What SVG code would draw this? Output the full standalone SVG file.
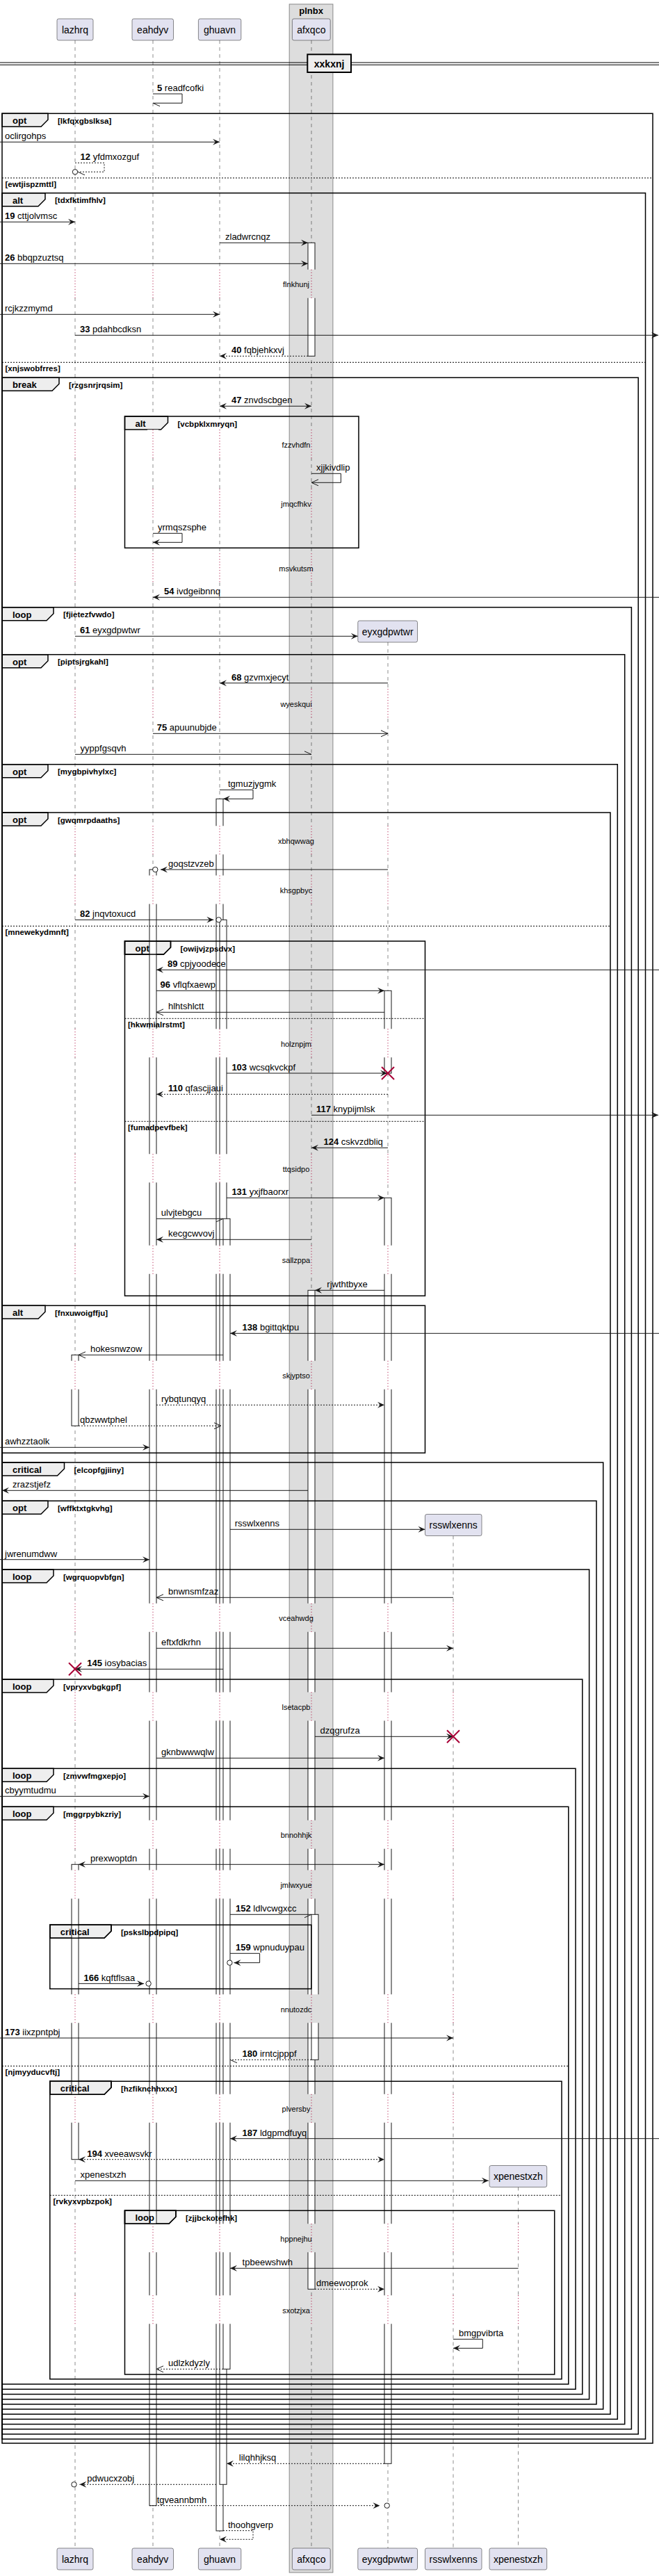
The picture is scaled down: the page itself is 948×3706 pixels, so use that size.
<svg xmlns="http://www.w3.org/2000/svg" width="948" height="3706" viewBox="0 0 948 3706">
<style>
text{font-family:"Liberation Sans",Arial,sans-serif;fill:#000}
.t{font-size:13px}
.b{font-weight:bold}
.g{font-size:11.5px;font-weight:bold}
.fl{font-size:13px;font-weight:bold}
.dt{font-size:11px;text-anchor:middle}
.pn{font-size:14px;text-anchor:middle}
.ll{stroke:#181818;stroke-width:.5;stroke-dasharray:5 5;fill:none}
.dl{stroke:#A80036;stroke-width:1;stroke-dasharray:1 3;fill:none}
.bar{fill:#fff;stroke:#181818;stroke-width:1}
.m{stroke:#181818;stroke-width:1;fill:none}
.d{stroke-dasharray:2 2}
.fr{fill:none;stroke:#000;stroke-width:1.5}
.tab{fill:#EEEEEE;stroke:#000;stroke-width:1.5}
.tabo{fill:none;stroke:#000;stroke-width:1.5}
.sep{stroke:#000;stroke-width:1;stroke-dasharray:2 2}
.pb{fill:#E2E2F0;stroke:#181818;stroke-width:.5}
.x{stroke:#A80036;stroke-width:2}
.c{fill:#fff;stroke:#181818;stroke-width:1}
</style>
<defs>
<marker id="f" markerUnits="userSpaceOnUse" markerWidth="12" markerHeight="10" refX="10" refY="4.5" orient="auto-start-reverse" overflow="visible"><path d="M0,0L10,4.5L0,9L4,4.5Z" fill="#181818"/></marker>
<marker id="o" markerUnits="userSpaceOnUse" markerWidth="12" markerHeight="10" refX="10" refY="4.5" orient="auto" overflow="visible"><path d="M0,0L10,4.5L0,9" fill="none" stroke="#181818" stroke-width="1"/></marker>
<marker id="hu" markerUnits="userSpaceOnUse" markerWidth="12" markerHeight="10" refX="10" refY="4.5" orient="auto" overflow="visible"><path d="M0,0L10,4.5" fill="none" stroke="#181818" stroke-width="1"/></marker>
<marker id="hl" markerUnits="userSpaceOnUse" markerWidth="12" markerHeight="10" refX="10" refY="4.5" orient="auto" overflow="visible"><path d="M0,9L10,4.5" fill="none" stroke="#181818" stroke-width="1"/></marker>
<path id="wa" d="M0 387.8h1v41h-1zM0 618.2h1v41h-1zM0 703.2h1v41h-1zM0 796.2h1v41h-1z"/>
<path id="wb" d="M0 991.2h1v41h-1zM0 1188.2h1v41h-1zM0 1259.5h1v41h-1zM0 1480.2h1v41h-1zM0 1660.2h1v41h-1zM0 1791.8h1v41h-1zM0 1957.8h1v41h-1z"/>
<path id="wc" d="M0 2306.8h1v41h-1zM0 2434.5h1v41h-1zM0 2618.8h1v41h-1zM0 2690.5h1v41h-1zM0 2869.2h1v41h-1zM0 3012.8h1v41h-1z"/>
<path id="wd" d="M0 3199.2h1v41h-1zM0 3302.2h1v41h-1z"/>
<path id="da" d="M0 387.8v41M0 618.2v41M0 703.2v41M0 796.2v41"/>
<path id="db" d="M0 991.2v41M0 1188.2v41M0 1259.5v41M0 1480.2v41M0 1660.2v41M0 1791.8v41M0 1957.8v41"/>
<path id="dc" d="M0 2306.8v41M0 2434.5v41M0 2618.8v41M0 2690.5v41M0 2869.2v41M0 3012.8v41"/>
<path id="dd" d="M0 3199.2v41M0 3302.2v41"/>
</defs>
<rect width="948" height="3706" fill="#fff"/>

<g id="box-plnbx">
<rect x="416.2" y="6" width="62.7" height="3695" fill="#DDDDDD" stroke="#888" stroke-width="1"/>
<text class="fl" x="447.6" y="19.5" text-anchor="middle">plnbx</text>
</g>

<g id="lifelines">
<path class="ll" d="M108 58V3666M220 58V3666M316 58V3666M448 58V3666M558 924V3666M652 2209.5V3666M745.5 3146.5V3666"/>
</g>

<g id="frame-tabs">
<polygon class="tab" points="3,163.3 69,163.3 69,172.3 59,182.3 3,182.3"/>
<polygon class="tab" points="3,277.7 65,277.7 65,286.7 55,296.7 3,296.7"/>
<polygon class="tab" points="3,543.3 85,543.3 85,552.3 75,562.3 3,562.3"/>
<polygon class="tab" points="179.5,599 241.5,599 241.5,608 231.5,618 179.5,618"/>
<polygon class="tab" points="3,873.7 77,873.7 77,882.7 67,892.7 3,892.7"/>
<polygon class="tab" points="3,941.7 69,941.7 69,950.7 59,960.7 3,960.7"/>
<polygon class="tab" points="3,1099.7 69,1099.7 69,1108.7 59,1118.7 3,1118.7"/>
<polygon class="tab" points="3,1169 69,1169 69,1178 59,1188 3,1188"/>
<polygon class="tab" points="179.5,1354 245.5,1354 245.5,1363 235.5,1373 179.5,1373"/>
<polygon class="tab" points="3,1878.3 65,1878.3 65,1887.3 55,1897.3 3,1897.3"/>
<polygon class="tab" points="3,2104 92.5,2104 92.5,2113 82.5,2123 3,2123"/>
<polygon class="tab" points="3,2159.3 69,2159.3 69,2168.3 59,2178.3 3,2178.3"/>
<polygon class="tab" points="3,2258 77,2258 77,2267 67,2277 3,2277"/>
<polygon class="tab" points="3,2416 77,2416 77,2425 67,2435 3,2435"/>
<polygon class="tab" points="3,2544.3 77,2544.3 77,2553.3 67,2563.3 3,2563.3"/>
<polygon class="tab" points="3,2599.3 77,2599.3 77,2608.3 67,2618.3 3,2618.3"/>
<polygon class="tab" points="71.8,2769.3 160,2769.3 160,2778.3 150,2788.3 71.8,2788.3"/>
<polygon class="tab" points="71.8,2994.3 160,2994.3 160,3003.3 150,3013.3 71.8,3013.3"/>
<polygon class="tab" points="179.5,3180.3 253,3180.3 253,3189.3 243,3199.3 179.5,3199.3"/>
</g>

<g id="activations">
<rect class="bar" x="443" y="349.3" width="10" height="163"/>
<rect class="bar" x="443" y="1856.3" width="10" height="1437"/>
<rect class="bar" x="448" y="2754.3" width="10" height="209"/>
<rect class="bar" x="311" y="1149.3" width="10" height="2491.7"/>
<rect class="bar" x="316" y="1323.3" width="10" height="2251"/>
<rect class="bar" x="321" y="1753.3" width="10" height="1655"/>
<rect class="bar" x="215" y="1251" width="10" height="2353.7"/>
<rect class="bar" x="553" y="1425.3" width="10" height="118.7"/>
<rect class="bar" x="553" y="1723.3" width="10" height="1821"/>
<rect class="bar" x="103" y="1949.3" width="10" height="102"/>
<rect class="bar" x="103" y="2682.3" width="10" height="424.4"/>
</g>

<g id="delays">
<use href="#wa" transform="translate(100 0) scale(16 1)" fill="#fff"/>
<use href="#wb" transform="translate(100 0) scale(16 1)" fill="#fff"/>
<use href="#wc" transform="translate(100 0) scale(16 1)" fill="#fff"/>
<use href="#wd" transform="translate(100 0) scale(16 1)" fill="#fff"/>
<use href="#wa" transform="translate(212 0) scale(16 1)" fill="#fff"/>
<use href="#wb" transform="translate(212 0) scale(16 1)" fill="#fff"/>
<use href="#wc" transform="translate(212 0) scale(16 1)" fill="#fff"/>
<use href="#wd" transform="translate(212 0) scale(16 1)" fill="#fff"/>
<use href="#wa" transform="translate(308 0) scale(26 1)" fill="#fff"/>
<use href="#wb" transform="translate(308 0) scale(26 1)" fill="#fff"/>
<use href="#wc" transform="translate(308 0) scale(26 1)" fill="#fff"/>
<use href="#wd" transform="translate(308 0) scale(26 1)" fill="#fff"/>
<use href="#wa" transform="translate(440 0) scale(21 1)" fill="#DDDDDD"/>
<use href="#wb" transform="translate(440 0) scale(21 1)" fill="#DDDDDD"/>
<use href="#wc" transform="translate(440 0) scale(21 1)" fill="#DDDDDD"/>
<use href="#wd" transform="translate(440 0) scale(21 1)" fill="#DDDDDD"/>
<use href="#wb" transform="translate(550 0) scale(16 1)" fill="#fff"/>
<use href="#wc" transform="translate(550 0) scale(16 1)" fill="#fff"/>
<use href="#wd" transform="translate(550 0) scale(16 1)" fill="#fff"/>
<use href="#wc" transform="translate(646 0) scale(12 1)" fill="#fff"/>
<use href="#wd" transform="translate(646 0) scale(12 1)" fill="#fff"/>
<use href="#wd" transform="translate(739.5 0) scale(12 1)" fill="#fff"/>
<use href="#da" class="dl" transform="translate(108 0)"/>
<use href="#db" class="dl" transform="translate(108 0)"/>
<use href="#dc" class="dl" transform="translate(108 0)"/>
<use href="#dd" class="dl" transform="translate(108 0)"/>
<use href="#da" class="dl" transform="translate(220 0)"/>
<use href="#db" class="dl" transform="translate(220 0)"/>
<use href="#dc" class="dl" transform="translate(220 0)"/>
<use href="#dd" class="dl" transform="translate(220 0)"/>
<use href="#da" class="dl" transform="translate(316 0)"/>
<use href="#db" class="dl" transform="translate(316 0)"/>
<use href="#dc" class="dl" transform="translate(316 0)"/>
<use href="#dd" class="dl" transform="translate(316 0)"/>
<use href="#da" class="dl" transform="translate(448 0)"/>
<use href="#db" class="dl" transform="translate(448 0)"/>
<use href="#dc" class="dl" transform="translate(448 0)"/>
<use href="#dd" class="dl" transform="translate(448 0)"/>
<use href="#db" class="dl" transform="translate(558 0)"/>
<use href="#dc" class="dl" transform="translate(558 0)"/>
<use href="#dd" class="dl" transform="translate(558 0)"/>
<use href="#dc" class="dl" transform="translate(652 0)"/>
<use href="#dd" class="dl" transform="translate(652 0)"/>
<use href="#dd" class="dl" transform="translate(745.5 0)"/>
<text class="dt" x="426" y="413.3">flnkhunj</text>
<text class="dt" x="426" y="643.7">fzzvhdfn</text>
<text class="dt" x="426" y="728.7">jmqcfhkv</text>
<text class="dt" x="426" y="821.7">msvkutsm</text>
<text class="dt" x="426" y="1016.7">wyeskqui</text>
<text class="dt" x="426" y="1213.7">xbhqwwag</text>
<text class="dt" x="426" y="1285">khsgpbyc</text>
<text class="dt" x="426" y="1505.7">holznpjm</text>
<text class="dt" x="426" y="1685.7">ttqsidpo</text>
<text class="dt" x="426" y="1817.3">sallzppa</text>
<text class="dt" x="426" y="1983.3">skjyptso</text>
<text class="dt" x="426" y="2332.3">vceahwdg</text>
<text class="dt" x="426" y="2460">lsetacpb</text>
<text class="dt" x="426" y="2644.3">bnnohhjk</text>
<text class="dt" x="426" y="2716">jmlwxyue</text>
<text class="dt" x="426" y="2894.7">nnutozdc</text>
<text class="dt" x="426" y="3038.3">plversby</text>
<text class="dt" x="426" y="3224.7">hppnejhu</text>
<text class="dt" x="426" y="3327.7">sxotzjxa</text>
</g>

<g id="frames">
<rect class="fr" x="3" y="163.3" width="936" height="3351.7"/>
<rect class="fr" x="3" y="277.7" width="925.5" height="3231.3"/>
<rect class="fr" x="3" y="543.3" width="915.2" height="2958.6"/>
<rect class="fr" x="179.5" y="599" width="336.5" height="189.3"/>
<rect class="fr" x="3" y="873.7" width="905.4" height="2621"/>
<rect class="fr" x="3" y="941.7" width="895.7" height="2545.9"/>
<rect class="fr" x="3" y="1099.7" width="885.3" height="2380.7"/>
<rect class="fr" x="3" y="1169" width="875" height="2304.2"/>
<rect class="fr" x="179.5" y="1354" width="432" height="510.3"/>
<rect class="fr" x="3" y="1878.3" width="608.5" height="212"/>
<rect class="fr" x="3" y="2104" width="864.7" height="1362"/>
<rect class="fr" x="3" y="2159.3" width="855" height="1299.6"/>
<rect class="fr" x="3" y="2258" width="844.6" height="1193.7"/>
<rect class="fr" x="3" y="2416" width="834.8" height="1028.5"/>
<rect class="fr" x="3" y="2544.3" width="825" height="893"/>
<rect class="fr" x="3" y="2599.3" width="814.8" height="830.7"/>
<rect class="fr" x="71.8" y="2769.3" width="376" height="92"/>
<rect class="fr" x="71.8" y="2994.3" width="736.2" height="428.4"/>
<rect class="fr" x="179.5" y="3180.3" width="618.2" height="235.7"/>
<polygon class="tabo" points="179.5,1354 245.5,1354 245.5,1363 235.5,1373 179.5,1373"/>
<polygon class="tabo" points="71.8,2769.3 160,2769.3 160,2778.3 150,2788.3 71.8,2788.3"/>
<polygon class="tabo" points="71.8,2994.3 160,2994.3 160,3003.3 150,3013.3 71.8,3013.3"/>
<polygon class="tabo" points="179.5,3180.3 253,3180.3 253,3189.3 243,3199.3 179.5,3199.3"/>
<path class="sep" d="M3 256H939M3 521.3H928.5M3 1332.3H878M179.5 1465.3H611.5M179.5 1613.3H611.5M3 2972.3H817.8M71.8 3158.3H808"/>
<text class="fl" x="18" y="178.3">opt</text><text class="g" x="83" y="177.8">[lkfqxgbslksa]</text>
<text class="g" x="7.5" y="269">[ewtjispzmttl]</text>
<text class="fl" x="18" y="292.7">alt</text><text class="g" x="79" y="292.2">[tdxfktimfhlv]</text>
<text class="g" x="7.5" y="534.3">[xnjswobfrres]</text>
<text class="fl" x="18" y="558.3">break</text><text class="g" x="99" y="557.8">[rzgsnrjrqsim]</text>
<text class="fl" x="194.5" y="614">alt</text><text class="g" x="255.5" y="613.5">[vcbpklxmryqn]</text>
<text class="fl" x="18" y="888.7">loop</text><text class="g" x="91" y="888.2">[fjietezfvwdo]</text>
<text class="fl" x="18" y="956.7">opt</text><text class="g" x="83" y="956.2">[piptsjrgkahl]</text>
<text class="fl" x="18" y="1114.7">opt</text><text class="g" x="83" y="1114.2">[mygbpivhylxc]</text>
<text class="fl" x="18" y="1184">opt</text><text class="g" x="83" y="1183.5">[gwqmrpdaaths]</text>
<text class="g" x="7.5" y="1345.3">[mnewekydmnft]</text>
<text class="fl" x="194.5" y="1369">opt</text><text class="g" x="259.5" y="1368.5">[owijvjzpsdvx]</text>
<text class="g" x="184" y="1478.3">[hkwmialrstmt]</text>
<text class="g" x="184" y="1626.3">[fumadpevfbek]</text>
<text class="fl" x="18" y="1893.3">alt</text><text class="g" x="79" y="1892.8">[fnxuwoigffju]</text>
<text class="fl" x="18" y="2119">critical</text><text class="g" x="106.5" y="2118.5">[elcopfgjiiny]</text>
<text class="fl" x="18" y="2174.3">opt</text><text class="g" x="83" y="2173.8">[wffktxtgkvhg]</text>
<text class="fl" x="18" y="2273">loop</text><text class="g" x="91" y="2272.5">[wgrquopvbfgn]</text>
<text class="fl" x="18" y="2431">loop</text><text class="g" x="91" y="2430.5">[vpryxvbgkgpf]</text>
<text class="fl" x="18" y="2559.3">loop</text><text class="g" x="91" y="2558.8">[zmvwfmgxepjo]</text>
<text class="fl" x="18" y="2614.3">loop</text><text class="g" x="91" y="2613.8">[mggrpybkzriy]</text>
<text class="fl" x="86.8" y="2784.3">critical</text><text class="g" x="174" y="2783.8">[pskslbpdpipq]</text>
<text class="g" x="7.5" y="2985.3">[njmyyducvftj]</text>
<text class="fl" x="86.8" y="3009.3">critical</text><text class="g" x="174" y="3008.8">[hzfiknchhxxx]</text>
<text class="g" x="76.5" y="3171.3">[rvkyxvpbzpok]</text>
<text class="fl" x="194.5" y="3195.3">loop</text><text class="g" x="267" y="3194.8">[zjjbckotefhk]</text>
</g>

<g id="connectors">
<path class="m" d="M220 135H262V148.3H220" marker-end="url(#hu)"/>
<text class="t" x="226" y="131"><tspan class="b">5</tspan> readfcofki</text>
<path class="m" d="M0 204.3H316" marker-end="url(#f)"/>
<text class="t" x="7" y="200.3">oclirgohps</text>
<path class="m d" d="M108 234.3H150V247.3H112" marker-end="url(#hu)"/>
<circle class="c" cx="108" cy="247.3" r="3.7"/>
<text class="t" x="115.6" y="230.3"><tspan class="b">12</tspan> yfdmxozguf</text>
<path class="m" d="M0 319.3H108" marker-end="url(#f)"/>
<text class="t" x="7" y="315.3"><tspan class="b">19</tspan> cttjolvmsc</text>
<path class="m" d="M316 349.3H443" marker-end="url(#f)"/>
<text class="t" x="324" y="345.3">zladwrcnqz</text>
<path class="m" d="M0 379.3H443" marker-end="url(#f)"/>
<text class="t" x="7" y="375.3"><tspan class="b">26</tspan> bbqpzuztsq</text>
<path class="m" d="M0 452.3H316" marker-end="url(#f)"/>
<text class="t" x="7" y="448.3">rcjkzzmymd</text>
<path class="m" d="M108 482.3H947" marker-end="url(#f)"/>
<text class="t" x="115" y="478.3"><tspan class="b">33</tspan> pdahbcdksn</text>
<path class="m d" d="M443 512.3H316" marker-end="url(#f)"/>
<text class="t" x="333" y="508.3"><tspan class="b">40</tspan> fqbjehkxvj</text>
<path class="m" d="M316 584.3H448" marker-start="url(#f)" marker-end="url(#f)"/>
<text class="t" x="333" y="580.3"><tspan class="b">47</tspan> znvdscbgen</text>
<path class="m" d="M448 681.3H490.4V694.3H448" marker-end="url(#o)"/>
<text class="t" x="455" y="677.3">xjjkivdlip</text>
<path class="m" d="M220 767.3H262V780.3H220" marker-end="url(#f)"/>
<text class="t" x="227" y="763.3">yrmqszsphe</text>
<path class="m" d="M948 859.3H220" marker-end="url(#f)"/>
<text class="t" x="236" y="855.3"><tspan class="b">54</tspan> ivdgeibnnq</text>
<path class="m" d="M108 915.3H514.8" marker-end="url(#f)"/>
<text class="t" x="115" y="911.3"><tspan class="b">61</tspan> eyxgdpwtwr</text>
<path class="m" d="M558 982.7H316" marker-end="url(#f)"/>
<text class="t" x="333" y="978.7"><tspan class="b">68</tspan> gzvmxjecyt</text>
<path class="m" d="M220 1055.3H558" marker-end="url(#o)"/>
<text class="t" x="225.7" y="1051.3"><tspan class="b">75</tspan> apuunubjde</text>
<path class="m" d="M108 1085.3H448" marker-end="url(#hu)"/>
<text class="t" x="115.6" y="1081.3">yyppfgsqvh</text>
<path class="m" d="M316 1136.3H364V1149.3H321" marker-end="url(#f)"/>
<text class="t" x="328" y="1132.3">tgmuzjygmk</text>
<path class="m" d="M558 1251H231" marker-end="url(#f)"/>
<circle class="c" cx="223.3" cy="1251" r="3.7"/>
<text class="t" x="242" y="1247">goqstzvzeb</text>
<path class="m" d="M108 1323.3H307.3" marker-end="url(#f)"/>
<circle class="c" cx="314.6" cy="1323.3" r="3.7"/>
<text class="t" x="115" y="1319.3"><tspan class="b">82</tspan> jnqvtoxucd</text>
<path class="m" d="M948 1395.3H225" marker-end="url(#f)"/>
<text class="t" x="241" y="1391.3"><tspan class="b">89</tspan> cpjyoodece</text>
<path class="m" d="M225 1425.3H553" marker-end="url(#f)"/>
<text class="t" x="230.6" y="1421.3"><tspan class="b">96</tspan> vflqfxaewp</text>
<path class="m" d="M553 1456.3H225" marker-end="url(#o)"/>
<text class="t" x="242" y="1452.3">hlhtshlctt</text>
<path class="m" d="M326 1544H557" marker-end="url(#f)"/>
<path class="x" d="M549 1535L567 1553M549 1553L567 1535"/>
<text class="t" x="333.4" y="1540"><tspan class="b">103</tspan> wcsqkvckpf</text>
<path class="m d" d="M558 1574.3H225" marker-end="url(#f)"/>
<text class="t" x="242" y="1570.3"><tspan class="b">110</tspan> qfascjjaui</text>
<path class="m" d="M448 1604.3H947" marker-end="url(#f)"/>
<text class="t" x="455" y="1600.3"><tspan class="b">117</tspan> knypijmlsk</text>
<path class="m" d="M558 1651.3H448" marker-end="url(#f)"/>
<text class="t" x="465.5" y="1647.3"><tspan class="b">124</tspan> cskvzdbliq</text>
<path class="m" d="M326 1723.3H553" marker-end="url(#f)"/>
<text class="t" x="333.4" y="1719.3"><tspan class="b">131</tspan> yxjfbaorxr</text>
<path class="m" d="M225 1753.3H321" marker-end="url(#hl)"/>
<text class="t" x="231.8" y="1749.3">ulvjtebgcu</text>
<path class="m" d="M448 1783.3H225" marker-end="url(#f)"/>
<text class="t" x="242" y="1779.3">kecgcwvovj</text>
<path class="m" d="M553 1856.3H453" marker-end="url(#f)"/>
<text class="t" x="470.3" y="1852.3">rjwthtbyxe</text>
<path class="m" d="M948 1918.3H331" marker-end="url(#f)"/>
<text class="t" x="348.6" y="1914.3"><tspan class="b">138</tspan> bgittqktpu</text>
<path class="m" d="M321 1949.3H113" marker-end="url(#o)"/>
<text class="t" x="130" y="1945.3">hokesnwzow</text>
<path class="m d" d="M225 2021.3H553" marker-end="url(#f)"/>
<text class="t" x="232" y="2017.3">rybqtunqyq</text>
<path class="m d" d="M113 2051.3H318" marker-end="url(#o)"/>
<text class="t" x="115" y="2047.3">qbzwwtphel</text>
<path class="m" d="M0 2082.3H215" marker-end="url(#f)"/>
<text class="t" x="7" y="2078.3">awhzztaolk</text>
<path class="m" d="M443 2144.3H3" marker-end="url(#f)"/>
<text class="t" x="18" y="2140.3">zrazstjefz</text>
<path class="m" d="M331 2200.3H611.5" marker-end="url(#f)"/>
<text class="t" x="337.7" y="2196.3">rsswlxenns</text>
<path class="m" d="M0 2243.7H215" marker-end="url(#f)"/>
<text class="t" x="7" y="2239.7">jwrenumdww</text>
<path class="m" d="M652 2298.3H225" marker-end="url(#o)"/>
<text class="t" x="242" y="2294.3">bnwnsmfzaz</text>
<path class="m" d="M225 2371.3H652" marker-end="url(#f)"/>
<text class="t" x="232" y="2367.3">eftxfdkrhn</text>
<path class="m" d="M321 2401.3H108" marker-end="url(#f)"/>
<path class="x" d="M99 2392.3L117 2410.3M99 2410.3L117 2392.3"/>
<text class="t" x="125.3" y="2397.3"><tspan class="b">145</tspan> iosybacias</text>
<path class="m" d="M453 2498.3H652" marker-end="url(#f)"/>
<path class="x" d="M643 2489.3L661 2507.3M643 2507.3L661 2489.3"/>
<text class="t" x="460.6" y="2494.3">dzqgrufza</text>
<path class="m" d="M225 2529.3H553" marker-end="url(#f)"/>
<text class="t" x="232" y="2525.3">gknbwwwqlw</text>
<path class="m" d="M0 2584.3H215" marker-end="url(#f)"/>
<text class="t" x="7" y="2580.3">cbyymtudmu</text>
<path class="m" d="M113 2682.3H553" marker-start="url(#f)" marker-end="url(#f)"/>
<text class="t" x="130" y="2678.3">prexwoptdn</text>
<path class="m" d="M331 2754.3H448" marker-end="url(#hl)"/>
<text class="t" x="339" y="2750.3"><tspan class="b">152</tspan> ldlvcwgxcc</text>
<path class="m" d="M331 2810.3H373.6V2823.7H336.5" marker-end="url(#f)"/>
<circle class="c" cx="330.4" cy="2823.7" r="3.7"/>
<text class="t" x="339" y="2806.3"><tspan class="b">159</tspan> wpnuduypau</text>
<path class="m" d="M113 2853.7H207" marker-end="url(#f)"/>
<circle class="c" cx="213.6" cy="2853.7" r="3.7"/>
<text class="t" x="120.5" y="2849.7"><tspan class="b">166</tspan> kqftflsaa</text>
<path class="m" d="M0 2932H652" marker-end="url(#f)"/>
<text class="t" x="7" y="2928"><tspan class="b">173</tspan> iixzpntpbj</text>
<path class="m d" d="M448 2963.3H331" marker-end="url(#hu)"/>
<text class="t" x="348.6" y="2959.3"><tspan class="b">180</tspan> irntcjpppf</text>
<path class="m" d="M948 3076.7H331" marker-end="url(#f)"/>
<text class="t" x="348.6" y="3072.7"><tspan class="b">187</tspan> ldgpmdfuyq</text>
<path class="m d" d="M113 3106.7H553" marker-start="url(#f)" marker-end="url(#f)"/>
<text class="t" x="125.3" y="3102.7"><tspan class="b">194</tspan> xveeawsvkr</text>
<path class="m" d="M108 3137.3H702.8" marker-end="url(#f)"/>
<text class="t" x="115.6" y="3133.3">xpenestxzh</text>
<path class="m" d="M745.5 3263.3H331" marker-end="url(#f)"/>
<text class="t" x="348.6" y="3259.3">tpbeewshwh</text>
<path class="m d" d="M453 3293.3H553" marker-end="url(#f)"/>
<text class="t" x="455" y="3289.3">dmeewoprok</text>
<path class="m" d="M652 3365.3H694.3V3378.3H652" marker-end="url(#f)"/>
<text class="t" x="660" y="3361.3">bmgpvibrta</text>
<path class="m d" d="M321 3408.3H225" marker-end="url(#o)"/>
<text class="t" x="242" y="3404.3">udlzkdyzly</text>
<path class="m d" d="M553 3544.3H326" marker-end="url(#f)"/>
<text class="t" x="343.8" y="3540.3">lilqhhjksq</text>
<path class="m d" d="M311 3574.3H114.4" marker-end="url(#f)"/>
<circle class="c" cx="106.5" cy="3574.3" r="3.7"/>
<text class="t" x="125.3" y="3570.3">pdwucxzobj</text>
<path class="m d" d="M215 3604.7H546.4" marker-end="url(#f)"/>
<circle class="c" cx="556.7" cy="3604.7" r="3.7"/>
<text class="t" x="225.7" y="3600.7">tgveannbmh</text>
<path class="m d" d="M321 3640.7H364V3653.3H316" marker-end="url(#f)"/>
<text class="t" x="328" y="3636.7">thoohgverp</text>
</g>

<g id="p-lazhrq">
<rect class="pb" x="82" y="27" width="52" height="31" rx="2.5"/><text class="pn" x="108" y="47.5">lazhrq</text>
<rect class="pb" x="82" y="3666" width="52" height="31" rx="2.5"/><text class="pn" x="108" y="3686.5">lazhrq</text>
</g>
<g id="p-eahdyv">
<rect class="pb" x="190" y="27" width="59.5" height="31" rx="2.5"/><text class="pn" x="219.7" y="47.5">eahdyv</text>
<rect class="pb" x="190" y="3666" width="59.5" height="31" rx="2.5"/><text class="pn" x="219.7" y="3686.5">eahdyv</text>
</g>
<g id="p-ghuavn">
<rect class="pb" x="285.4" y="27" width="61.4" height="31" rx="2.5"/><text class="pn" x="316" y="47.5">ghuavn</text>
<rect class="pb" x="285.4" y="3666" width="61.4" height="31" rx="2.5"/><text class="pn" x="316" y="3686.5">ghuavn</text>
</g>
<g id="p-afxqco">
<rect class="pb" x="420.4" y="27" width="54.8" height="31" rx="2.5"/><text class="pn" x="447.8" y="47.5">afxqco</text>
<rect class="pb" x="420.4" y="3666" width="54.8" height="31" rx="2.5"/><text class="pn" x="447.8" y="3686.5">afxqco</text>
</g>
<g id="p-eyxgdpwtwr">
<rect class="pb" x="514.8" y="893" width="85.7" height="31" rx="2.5"/><text class="pn" x="557.6" y="913.5">eyxgdpwtwr</text>
<rect class="pb" x="514.8" y="3666" width="85.7" height="31" rx="2.5"/><text class="pn" x="557.6" y="3686.5">eyxgdpwtwr</text>
</g>
<g id="p-rsswlxenns">
<rect class="pb" x="611.5" y="2178.5" width="81.5" height="31" rx="2.5"/><text class="pn" x="652.2" y="2199">rsswlxenns</text>
<rect class="pb" x="611.5" y="3666" width="81.5" height="31" rx="2.5"/><text class="pn" x="652.2" y="3686.5">rsswlxenns</text>
</g>
<g id="p-xpenestxzh">
<rect class="pb" x="704" y="3115.5" width="82.7" height="31" rx="2.5"/><text class="pn" x="745.3" y="3136">xpenestxzh</text>
<rect class="pb" x="704" y="3666" width="82.7" height="31" rx="2.5"/><text class="pn" x="745.3" y="3686.5">xpenestxzh</text>
</g>

<g id="divider-xxkxnj">
<path d="M0 90H948M0 93.3H948" stroke="#000" stroke-width="1"/>
<rect x="442.3" y="78.3" width="62.7" height="25.7" fill="#EEEEEE" stroke="#000" stroke-width="2"/>
<text x="473.6" y="96.5" font-size="14" font-weight="bold" text-anchor="middle">xxkxnj</text>
</g>
</svg>
